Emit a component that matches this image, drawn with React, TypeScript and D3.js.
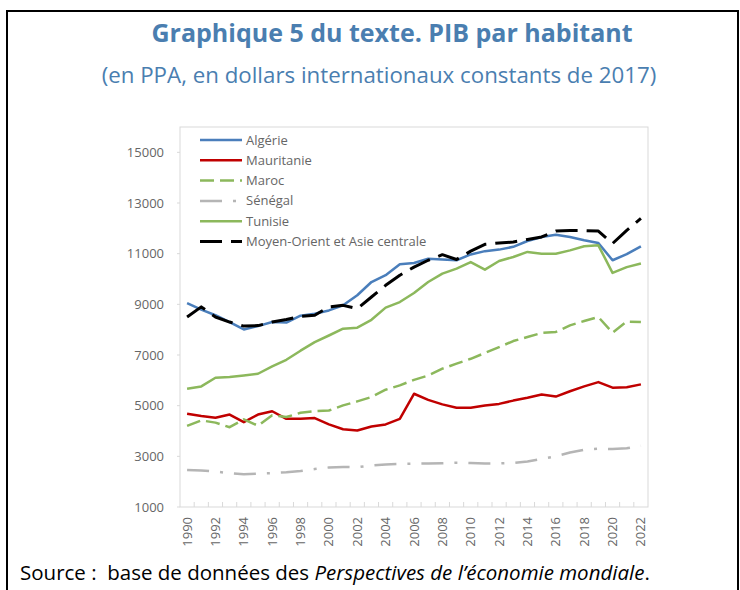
import React from 'react';
import { scaleLinear, scalePoint, scaleBand, line } from 'd3';

const years = [
  1990, 1991, 1992, 1993, 1994, 1995, 1996, 1997, 1998, 1999, 2000, 2001,
  2002, 2003, 2004, 2005, 2006, 2007, 2008, 2009, 2010, 2011, 2012, 2013,
  2014, 2015, 2016, 2017, 2018, 2019, 2020, 2021, 2022,
];
const yTicks = [1000, 3000, 5000, 7000, 9000, 11000, 13000, 15000];

const algerie = [
  9050, 8790, 8570, 8300, 8010, 8140, 8300, 8280, 8550, 8630, 8760, 8960,
  9360, 9880, 10150, 10580, 10630, 10800, 10770, 10740, 10970, 11100, 11160,
  11270, 11500, 11660, 11750, 11660, 11530, 11420, 10740, 10980, 11290,
];
const mauritanie = [
  4680, 4590, 4520, 4650, 4350, 4650, 4780, 4480, 4480, 4510, 4260, 4070,
  4020, 4180, 4260, 4480, 5470, 5230, 5050, 4920, 4920, 5010, 5070, 5200,
  5310, 5440, 5360, 5570, 5760, 5930, 5710, 5730, 5840,
];
const maroc = [
  4200, 4420, 4330, 4150, 4460, 4210, 4620, 4550, 4720, 4780, 4810, 5010,
  5170, 5340, 5630, 5800, 6020, 6190, 6460, 6660, 6850, 7080, 7310, 7550,
  7710, 7870, 7910, 8170, 8340, 8500, 7880, 8320, 8300,
];
const senegal = [
  2460, 2440, 2400, 2330, 2290, 2320, 2340, 2370, 2420, 2500, 2560, 2580,
  2570, 2640, 2680, 2700, 2710, 2720, 2730, 2750, 2740, 2720, 2720, 2740,
  2800, 2900, 3000, 3150, 3260, 3300, 3290, 3320, 3420,
];
const tunisie = [
  5670, 5760, 6100, 6130, 6190, 6260, 6550, 6810, 7170, 7510, 7770, 8040,
  8080, 8390, 8870, 9090, 9450, 9880, 10210, 10410, 10670, 10370, 10710,
  10870, 11070, 11000, 11000, 11130, 11290, 11330, 10240, 10470, 10610,
];
const moyenOrient = [
  8500, 8900, 8500, 8300, 8140, 8160, 8300, 8400, 8530, 8570, 8900, 8960,
  8830, 9290, 9750, 10150, 10470, 10740, 10960, 10770, 11100, 11370, 11420,
  11460, 11560, 11660, 11890, 11910, 11910, 11890, 11400, 11920, 12390,
];

const series = [
  { name: 'Algérie', values: algerie, color: '#4a7ebb', dash: '', width: 2.5 },
  { name: 'Mauritanie', values: mauritanie, color: '#c00000', dash: '', width: 2.5 },
  { name: 'Maroc', values: maroc, color: '#8cb85c', dash: '14,6', width: 2.5 },
  { name: 'Sénégal', values: senegal, color: '#b5b5b5', dash: '22,11,3,11', width: 2.5 },
  { name: 'Tunisie', values: tunisie, color: '#8cb85c', dash: '', width: 2.5 },
  { name: 'Moyen-Orient et Asie centrale', values: moyenOrient, color: '#000000', dash: '22,9', width: 3 },
];

const plot = { left: 180, right: 648, top: 127, bottom: 507 };
const font = '"Open Sans", sans-serif';
const axisColor = '#666666';

const App = () => {
  const x = scalePoint<number>()
    .domain(years)
    .range([plot.left, plot.right])
    .padding(0.5);
  const band = scaleBand<number>()
    .domain(years)
    .range([plot.left, plot.right]);
  const y = scaleLinear().domain([1000, 16000]).range([plot.bottom, plot.top]);

  const path = line<number>()
    .x((_, i) => x(years[i]) as number)
    .y((d) => y(d));

  return (
    <svg
      width={740}
      height={590}
      style={{ position: 'absolute', left: 0, top: 0, background: '#fff' }}
      fontFamily={font}
    >
      {/* outer frame */}
      <path d="M7,590 V11 H738 V590" fill="none" stroke="#000" strokeWidth={2} />

      <text x={392} y={42} textAnchor="middle" fontSize={25} fontWeight={700} fill="#4a7eb0">
        Graphique 5 du texte. PIB par habitant
      </text>
      <text x={379} y={83} textAnchor="middle" fontSize={22.3} fill="#4a7eb0">
        (en PPA, en dollars internationaux constants de 2017)
      </text>

      {/* plot box */}
      <rect
        x={plot.left}
        y={plot.top}
        width={plot.right - plot.left}
        height={plot.bottom - plot.top}
        fill="none"
        stroke="#d9d9d9"
      />

      {yTicks.map((t) => (
        <g key={t}>
          <line x1={plot.left - 3} x2={plot.left} y1={y(t)} y2={y(t)} stroke="#d9d9d9" />
          <text x={164} y={y(t)} dy="0.35em" textAnchor="end" fontSize={13} fill={axisColor}>
            {t}
          </text>
        </g>
      ))}

      {years.slice(1).map((yr) => (
        <line
          key={yr}
          x1={band(yr)}
          x2={band(yr)}
          y1={plot.bottom - 5}
          y2={plot.bottom}
          stroke="#d9d9d9"
        />
      ))}
      {years
        .filter((yr) => yr % 2 === 0)
        .map((yr) => (
          <text
            key={yr}
            transform={`translate(${x(yr)},517) rotate(-90)`}
            dy="0.35em"
            textAnchor="end"
            fontSize={13}
            fill={axisColor}
          >
            {yr}
          </text>
        ))}

      {series.map((s) => (
        <path
          key={s.name}
          d={path(s.values) ?? ''}
          fill="none"
          stroke={s.color}
          strokeWidth={s.width}
          strokeDasharray={s.dash || undefined}
          strokeLinejoin="round"
        />
      ))}

      {/* legend */}
      {series.map((s, i) => {
        const ly = 140 + i * 20.3;
        return (
          <g key={s.name}>
            <line
              x1={200}
              x2={242}
              y1={ly}
              y2={ly}
              stroke={s.color}
              strokeWidth={s.width}
              strokeDasharray={s.dash || undefined}
            />
            <text x={246} y={ly} dy="0.35em" fontSize={13} fill={axisColor}>
              {s.name}
            </text>
          </g>
        );
      })}

      <text x={20} y={580} fontSize={20.5} fill="#000" style={{ whiteSpace: 'pre' }}>
        {'Source :  base de données des '}
        <tspan fontStyle="italic">Perspectives de l’économie mondiale</tspan>.
      </text>
    </svg>
  );
};

export default App;
